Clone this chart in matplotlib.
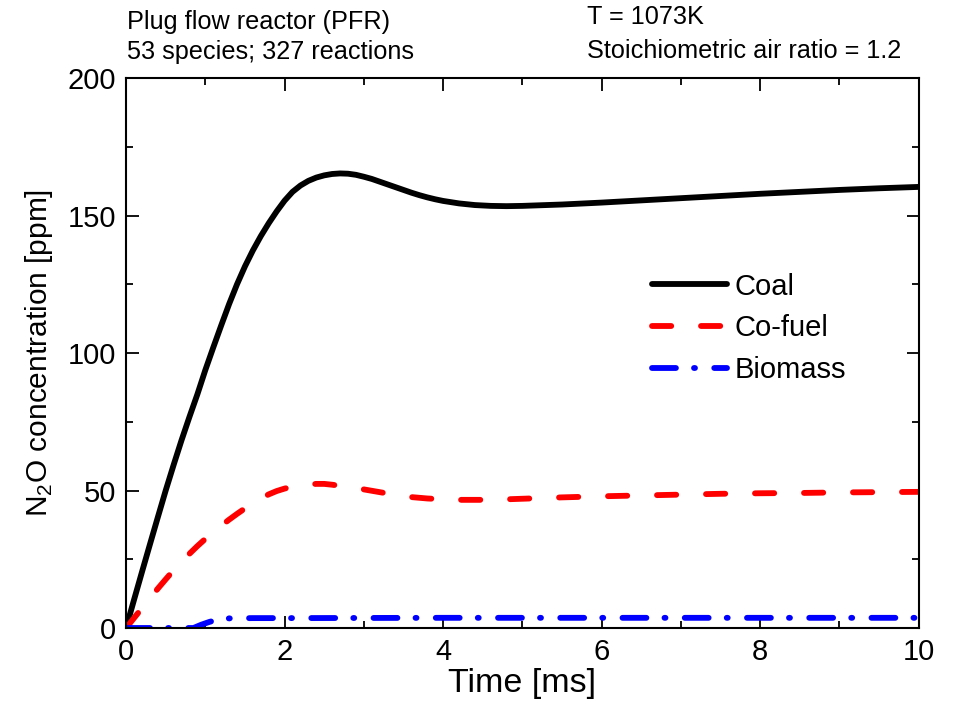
import matplotlib

matplotlib.use("Agg")
import matplotlib.pyplot as plt
from matplotlib.ticker import MultipleLocator

plt.rcParams["font.family"] = ["Liberation Sans", "DejaVu Sans"]
plt.rcParams["mathtext.fontset"] = "custom"
plt.rcParams["mathtext.rm"] = "Liberation Sans"

# values
coal_t = [0, 0.1, 0.2, 0.3, 0.4, 0.5, 0.6, 0.7, 0.8, 0.9, 1.0, 1.1, 1.2, 1.3, 1.4,
          1.5, 1.6, 1.7, 1.8, 1.9, 2.0, 2.1, 2.2, 2.3, 2.4, 2.5, 2.6, 2.7, 2.8, 2.9,
          3.0, 3.1, 3.2, 3.3, 3.4, 3.5, 3.6, 3.7, 3.8, 3.9, 4.0, 4.2, 4.4, 4.6, 4.8,
          5.0, 5.5, 6.0, 6.5, 7.0, 7.5, 8.0, 8.5, 9.0, 9.5, 10.0]
coal_ppm = [0, 10.2, 20.3, 30.3, 40.2, 50.0, 59.3, 68.3, 76.8, 85.0, 93.8, 102, 110,
            117.8, 125, 131.5, 137.3, 142.5, 147.2, 151.5, 155.4, 158.6, 160.9, 162.6,
            163.8, 164.6, 165.1, 165.3, 165.2, 164.8, 164.1, 163.3, 162.3, 161.3, 160.3,
            159.3, 158.3, 157.4, 156.6, 155.9, 155.3, 154.4, 153.8, 153.5, 153.4, 153.5,
            154.0, 154.7, 155.5, 156.3, 157.1, 157.9, 158.6, 159.3, 159.9, 160.4]

cofuel_t = [0, 0.1, 0.2, 0.3, 0.4, 0.5, 0.6, 0.7, 0.8, 0.9, 1.0, 1.1, 1.2, 1.3, 1.4,
            1.5, 1.6, 1.7, 1.8, 1.9, 2.0, 2.1, 2.2, 2.3, 2.4, 2.5, 2.6, 2.7, 2.8, 2.9,
            3.0, 3.2, 3.4, 3.6, 3.8, 4.0, 4.2, 4.5, 4.8, 5.0, 5.5, 6.0, 6.5, 7.0, 7.5,
            8.0, 8.5, 9.0, 9.5, 10.0]
cofuel_ppm = [0, 3.6, 7.2, 10.8, 14.3, 17.7, 21, 24, 27, 29.8, 32.4, 34.8, 37.2, 39.4,
              41.5, 43.5, 45.4, 47.1, 48.6, 49.8, 50.7, 51.4, 51.9, 52.2, 52.4, 52.4,
              52.1, 51.7, 51.3, 50.9, 50.4, 49.4, 48.4, 47.6, 47.1, 46.8, 46.6, 46.6,
              46.8, 47.0, 47.5, 47.9, 48.2, 48.5, 48.8, 49.0, 49.1, 49.3, 49.4, 49.5]

biomass_t = [0, 0.5, 0.85, 0.95, 1.05, 1.15, 1.3, 1.6, 2.0, 4.0, 6.0, 8.0, 10.0]
biomass_ppm = [0, 0, 0, 1.2, 2.2, 3.0, 3.5, 3.6, 3.6, 3.7, 3.7, 3.7, 3.7]

fig = plt.figure(figsize=(9.55, 7.23), dpi=100)
ax = fig.add_axes([0.132, 0.1314, 0.830, 0.7607])

lw = 4.2
ax.plot(coal_t, coal_ppm, color="black", lw=lw, solid_capstyle="round",
        solid_joinstyle="round", label="Coal")
ax.plot(cofuel_t, cofuel_ppm, color="#ff0000", lw=lw, dashes=(3.3, 5.1),
        dash_capstyle="round", label="Co-fuel")
ax.plot(biomass_t, biomass_ppm, color="#0000ff", lw=lw, dashes=(4.1, 3.1, 0.17, 3.3),
        dash_capstyle="round", label="Biomass")

ax.set_xlim(0, 10)
ax.set_ylim(0, 200)
ax.xaxis.set_major_locator(MultipleLocator(2))
ax.xaxis.set_minor_locator(MultipleLocator(1))
ax.yaxis.set_major_locator(MultipleLocator(50))
ax.yaxis.set_minor_locator(MultipleLocator(25))
ax.tick_params(which="both", direction="in", top=True, right=True, width=1.3,
               labelsize=21, pad=7)
ax.tick_params(which="major", length=9)
ax.tick_params(which="minor", length=5)
for side in ax.spines.values():
    side.set_linewidth(1.5)

ax.set_xlabel("Time [ms]", fontsize=24.5, labelpad=2)
ax.set_ylabel("N$_2$O concentration [ppm]", fontsize=21.5, labelpad=9)

ax.legend(loc="upper left", bbox_to_anchor=(0.663, 0.646), frameon=False,
          fontsize=21, handlelength=2.6, handletextpad=0.25, labelspacing=0.47,
          borderpad=0, borderaxespad=0)

fig.text(0.133, 0.970, "Plug flow reactor (PFR)", fontsize=18.2, va="center")
fig.text(0.133, 0.928, "53 species; 327 reactions", fontsize=18.2, va="center")
fig.text(0.615, 0.977, "T = 1073K", fontsize=18.2, va="center")
fig.text(0.615, 0.930, "Stoichiometric air ratio = 1.2", fontsize=18.2, va="center")

fig.savefig("out.png", dpi=100)
